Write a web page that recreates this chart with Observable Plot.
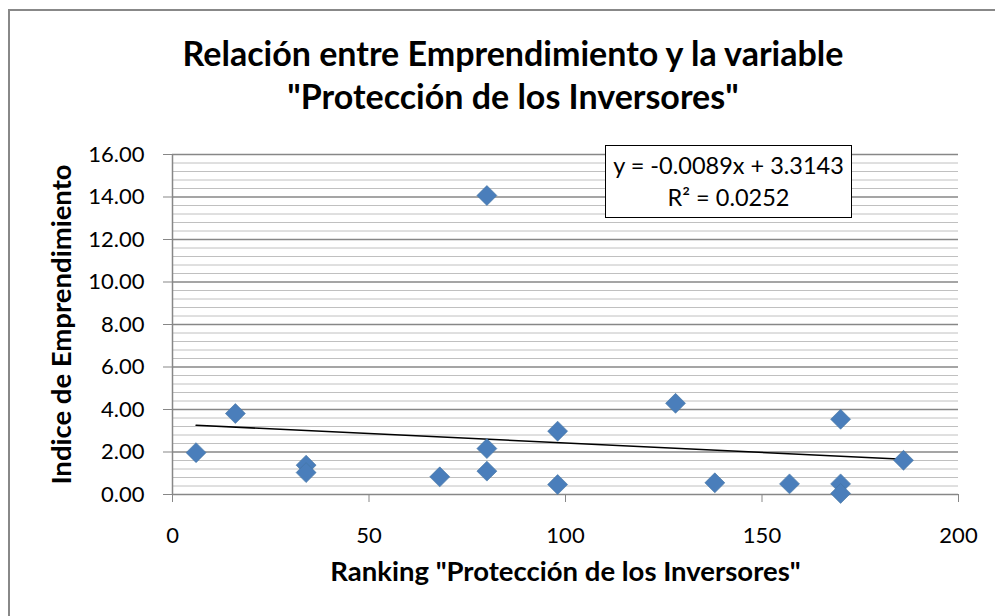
<!DOCTYPE html>
<html>
<head>
<meta charset="utf-8">
<script src="https://cdn.jsdelivr.net/npm/d3@7"></script>
<script src="https://cdn.jsdelivr.net/npm/@observablehq/plot@0.6"></script>
<style>
  html, body { margin: 0; padding: 0; background: #fff; }
  #chart { position: relative; width: 995px; height: 616px; overflow: hidden; font-family: Lato, "Open Sans", sans-serif; }
  #frame { position: absolute; left: 8px; top: 9px; width: 1100px; height: 800px; border: 2px solid #888; box-sizing: border-box; }
  #title { position: absolute; left: 0; width: 1026px; top: 31px; text-align: center; font-weight: bold; font-size: 34px; line-height: 43px; color: #000; }
  #eq { position: absolute; left: 605px; top: 145px; width: 247px; height: 73px; box-sizing: border-box; border: 1.5px solid #000; background: #fff; text-align: center; font-size: 23.5px; line-height: 32px; padding-top: 3px; color: #000; white-space: nowrap; }
  #plot { position: absolute; left: 0; top: 0; }
</style>
</head>
<body>
<div id="chart">
  <div id="frame"></div>
  <div id="plot"></div>
  <div id="title"></div>
  <div id="eq"></div>
</div>
<script>
// ---- data ----
const ranking = [6, 16, 34, 34, 68, 80, 80, 80, 98, 98, 128, 138, 157, 170, 170, 170, 186];
const indice  = [1.97, 3.81, 1.38, 1.03, 0.83, 14.07, 2.16, 1.10, 2.98, 0.47, 4.29, 0.55, 0.50, 3.54, 0.50, 0.05, 1.61];
const slope = -0.0089;
const intercept = 3.3143;
const r2 = 0.0252;
const xTicks = [0, 50, 100, 150, 200];
const yMajorTicks = [0, 2, 4, 6, 8, 10, 12, 14, 16];
const titleLines = ["Relación entre Emprendimiento y la variable", "\"Protección de los Inversores\""];
const xLabel = "Ranking \"Protección de los Inversores\"";
const yLabel = "Indice de Emprendimiento";

// ---- derived tables ----
const points = ranking.map((x, i) => ({x, y: indice[i]}));
const yMinorTicks = d3.range(0, 80).map(i => i * 0.4).filter(v => v <= 16.001 && Math.abs(v / 2 - Math.round(v / 2)) > 1e-6);
const xMin = d3.min(ranking), xMax = d3.max(ranking);
const trend = [xMin, xMax].map(x => ({x, y: slope * x + intercept}));

document.getElementById("title").innerHTML = titleLines.join("<br>");
document.getElementById("eq").innerHTML =
  `y = ${slope.toFixed(4)}x + ${intercept.toFixed(4)}<br>R² = ${r2.toFixed(4)}`;

const plot = Plot.plot({
  width: 995,
  height: 616,
  marginLeft: 172,
  marginRight: 37,
  marginTop: 154,
  marginBottom: 122,
  style: { fontFamily: "Lato, 'Open Sans', sans-serif", background: "transparent", color: "#000" },
  x: { domain: [0, 200] },
  y: { domain: [0, 16] },
  marks: [
    Plot.ruleY(yMinorTicks, { stroke: "#c0c0c0", strokeWidth: 1 }),
    Plot.ruleY(yMajorTicks, { stroke: "#878787", strokeWidth: 1.5 }),
    Plot.ruleX([0], { stroke: "#878787", strokeWidth: 1.5 }),
    Plot.axisY(yMajorTicks, {
      tickSize: 9, tickPadding: 19, tickFormat: d => d.toFixed(2),
      fontSize: 22, stroke: "#878787", fill: "#000", label: null
    }),
    Plot.axisX(xTicks, {
      tickSize: 8, tickPadding: 25, tickFormat: d => String(d),
      fontSize: 22, stroke: "#878787", fill: "#000", label: null
    }),
    Plot.line(trend, { x: "x", y: "y", stroke: "#000", strokeWidth: 1.6 }),
    Plot.dot(points, { x: "x", y: "y", symbol: "diamond2", r: 9, fill: "#4a7ebb", stroke: "#44739f", strokeWidth: 0.6 }),
    Plot.text([xLabel], { text: d => d, frameAnchor: "bottom", dy: 86, fontSize: 27.5, fontWeight: "bold", fill: "#000" }),
    Plot.text([yLabel], { text: d => d, frameAnchor: "left", textAnchor: "middle", dx: -110, rotate: -90, fontSize: 27.5, fontWeight: "bold", fill: "#000" })
  ]
});
document.getElementById("plot").appendChild(plot);
</script>
</body>
</html>
